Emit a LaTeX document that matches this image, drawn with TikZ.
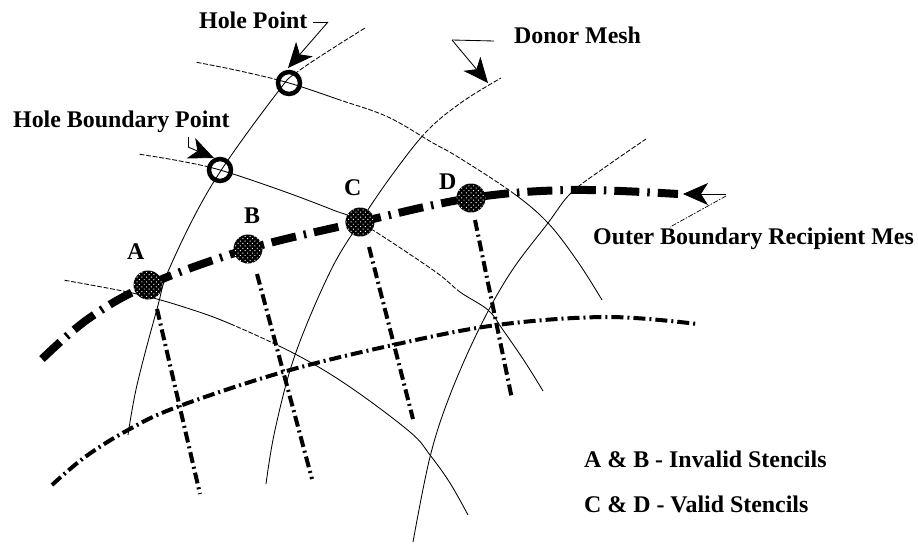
\documentclass[tikz,border=0pt]{standalone}
\usepackage{fontspec}
\setmainfont{Liberation Serif}
\usetikzlibrary{arrows.meta,patterns.meta}
\tikzset{
  meshthin/.style={line width=0.85pt,black},
  meshfine/.style={line width=0.7pt,black,dash pattern=on 5pt off 1.5pt on 1.5pt off 1.5pt},
  meshbreak/.style={line width=1.8pt,white,dash pattern=on 1.6pt off 5pt},
  heavybound/.style={line width=8pt,dash pattern=on 25pt off 8pt on 2.5pt off 8pt},
  medbound/.style={line width=4pt,dash pattern=on 12pt off 4pt on 2pt off 4pt},
  stencil/.style={line width=4pt,dash pattern=on 11pt off 4pt on 2pt off 4pt},
  stipple/.style={circle,inner sep=0pt,minimum size=29pt,fill=black,
    postaction={pattern={Dots[distance=3.4pt,radius=0.7pt,angle=45]},pattern color=white}},
  holept/.style={circle,inner sep=0pt,minimum size=22pt,draw=black,line width=4.5pt},
  lab/.style={anchor=base west,inner sep=0pt,font=\fontsize{23.9}{26}\selectfont\bfseries},
  leader/.style={line width=0.85pt,black},
  bigtip/.style={-{Stealth[length=25pt,width=22pt,inset=7pt]}},
  curveLa/.style={insert path={plot[smooth,tension=.6] coordinates {(128,435) (137,385) (157,309) (170,267) (213,183) (277,93) (300,70) (365,28)}}},
  curveLb/.style={insert path={plot[smooth,tension=.6] coordinates {(266,484) (275,430) (295,355) (330,272) (360,222) (392,175) (427,131) (462,102) (501,78)}}},
  curveLc/.style={insert path={plot[smooth,tension=.6] coordinates {(413,542) (430,457) (450,395) (480,327) (511,272) (548,223) (571,193) (604,168) (646,139)}}},
  curveCa/.style={insert path={plot[smooth,tension=.6] coordinates {(195,62) (240,71) (289,83) (340,100) (388,117) (433,143) (458,157) (513,193) (548,223) (578,262) (602,300)}}},
  curveCb/.style={insert path={plot[smooth,tension=.6] coordinates {(138,154) (180,161) (220,170) (280,190) (333,210) (360,222) (433,270) (460,292) (488,310) (503,330) (525,362) (543,391)}}},
  curveCc/.style={insert path={plot[smooth,tension=.6] coordinates {(63,280) (137,294) (190,309) (233,325) (297,355) (350,387) (410,432) (430,455) (450,483) (468,515)}}},
}
\begin{document}
\begin{tikzpicture}[x=1pt,y=-1pt]
\useasboundingbox (0,0) rectangle (918,544);
% named points
\coordinate (A) at (148,285);
\coordinate (B) at (248,249);
\coordinate (C) at (360,222);
\coordinate (D) at (471,198);
\coordinate (Afoot) at (200,494);
\coordinate (Bfoot) at (312,479);
\coordinate (Cfoot) at (413,419);
\coordinate (Dfoot) at (512,399);
% donor mesh
\draw[meshthin,curveLa];
\draw[meshthin,curveLb];
\draw[meshthin,curveLc];
\draw[meshthin,curveCa];
\draw[meshthin,curveCb];
\draw[meshthin,curveCc];
% stretches of the mesh where the line breaks up
\begin{scope}\clip (290,0) rectangle (400,72); \draw[meshbreak,curveLa]; \end{scope}
\begin{scope}\clip (423,60) rectangle (520,135); \draw[meshbreak,curveLb]; \end{scope}
\begin{scope}\clip (571,120) rectangle (660,193); \draw[meshbreak,curveLc]; \end{scope}
\begin{scope}\clip (180,50) rectangle (280,90); \draw[meshbreak,curveCa]; \end{scope}
\begin{scope}\clip (340,90) rectangle (513,193); \draw[meshbreak,curveCa]; \end{scope}
\begin{scope}\clip (130,145) rectangle (212,175); \draw[meshbreak,curveCb]; \end{scope}
\begin{scope}\clip (372,225) rectangle (460,295); \draw[meshbreak,curveCb]; \end{scope}
\begin{scope}\clip (55,270) rectangle (130,295); \draw[meshbreak,curveCc]; \end{scope}
\begin{scope}\clip (233,315) rectangle (280,350); \draw[meshbreak,curveCc]; \end{scope}
% recipient boundaries
\draw[heavybound] plot[smooth,tension=.6] coordinates {(42,359) (88,319) (148,285) (248,249) (360,222) (471,198) (571,190) (678,194)};
\draw[medbound] plot[smooth,tension=.6] coordinates {(52,485) (85,457) (128,430) (177,407) (283,372) (393,345) (497,325) (607,317) (697,324)};
% stencils
\draw[stencil] (A) ++(9,24) -- (Afoot);
\draw[stencil] (B) ++(9,25) -- (Bfoot);
\draw[stencil] (C) ++(9,25) -- (Cfoot);
\draw[stencil] (D) ++(4,22) -- (Dfoot);
% dots on top of the lines
\node[stipple] (dA) at (A) {};
\node[stipple] (dB) at (B) {};
\node[stipple] (dC) at (C) {};
\node[stipple] (dD) at (D) {};
\node[holept] (H) at (289,83) {};
\node[holept] (HB) at (220,170) {};
% labels
\node[lab] (tH) at (199,28) {Hole Point};
\node[lab] (tHB) at (13,127) {Hole Boundary Point};
\node[lab] (tD) at (514,43) {Donor Mesh};
\node[lab] (tO) at (593,244) {Outer Boundary Recipient Mes};
\node[lab] (tA) at (127,259) {A};
\node[lab] (tB) at (244,223) {B};
\node[lab] (tC) at (344,195) {C};
\node[lab] (tDd) at (439,189) {D};
\node[lab] (tAB) at (584,467) {A \& B - Invalid Stencils};
\node[lab] (tCD) at (584,512) {C \& D - Valid Stencils};
% leaders
\coordinate (k1) at (328,22);
\draw[leader] (313,22) -- (k1);
\draw[leader,bigtip] (k1) -- (288,68);
\coordinate (k2) at (188,147);
\draw[leader] (188,137) -- (k2);
\draw[leader,bigtip] (k2) -- (214,158);
\coordinate (k3) at (452,40);
\draw[leader] (494,41) -- (k3);
\draw[leader,bigtip] (k3) -- (488,83);
\coordinate (k4) at (726,194);
\draw[leader,bigtip] (k4) -- (683,194);
\draw[meshfine] (k4) ++(0,2) -- (670,227);
\end{tikzpicture}
\end{document}
